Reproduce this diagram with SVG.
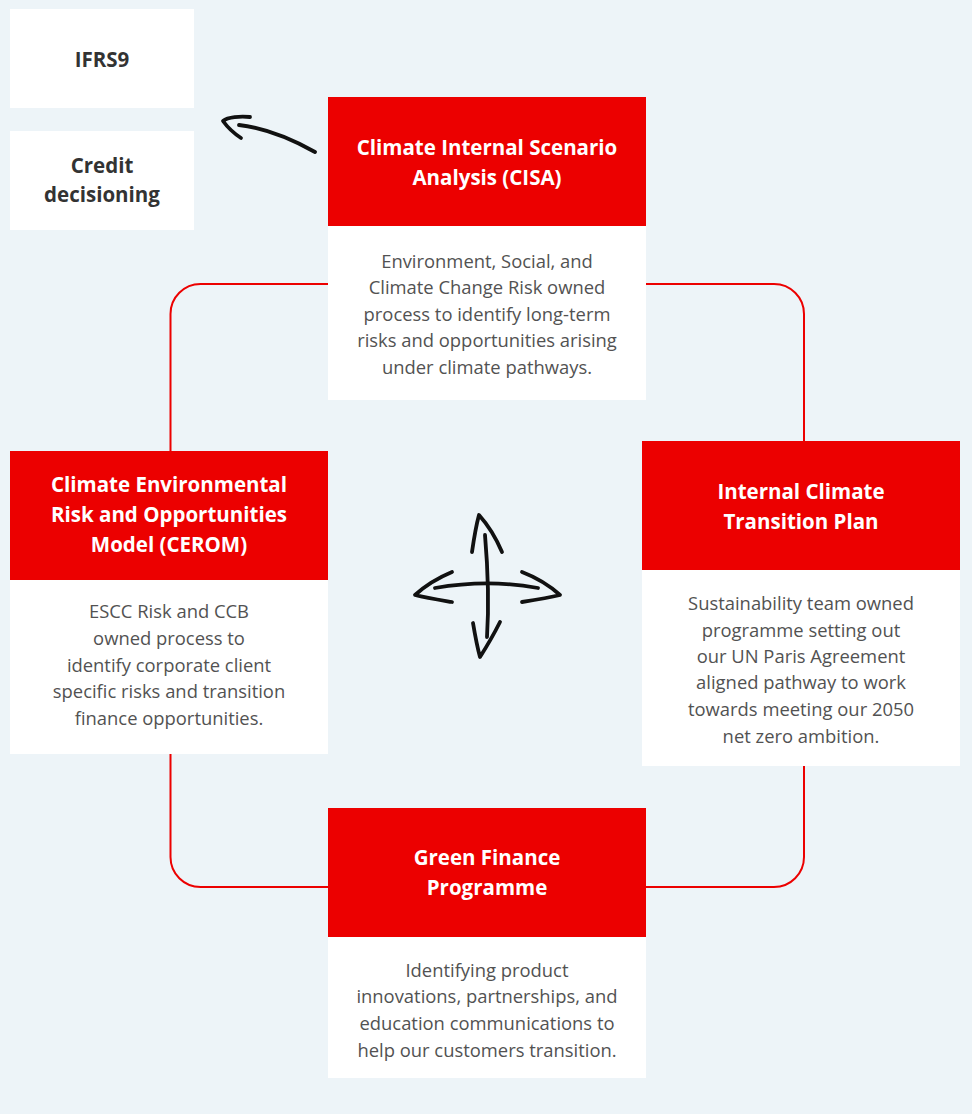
<svg xmlns="http://www.w3.org/2000/svg" width="972" height="1114" viewBox="0 0 972 1114">
<style>
.bg{fill:#EDF4F8}
.red{fill:#EC0000}
.wh{fill:#FFFFFF}
.h{font-family:"Open Sans","Liberation Sans",sans-serif;font-weight:700;font-size:20.5px;fill:#FFFFFF;text-anchor:middle}
.hd{font-family:"Open Sans","Liberation Sans",sans-serif;font-weight:700;font-size:20.5px;fill:#333333;text-anchor:middle}
.b{font-family:"Open Sans","Liberation Sans",sans-serif;font-weight:400;font-size:18.4px;fill:#525252;text-anchor:middle}
.loop{fill:none;stroke:#EC0000;stroke-width:2}
.ink{fill:none;stroke:#111111;stroke-width:3.8;stroke-linecap:round;stroke-linejoin:round}
</style>
<rect class="bg" x="0" y="0" width="972" height="1114"/>

<g id="connectors">
<rect class="loop" x="170.5" y="284" width="633.5" height="603" rx="30" ry="30"/>
<g id="arrow-cisa-to-ifrs">
<path class="ink" d="M315,152 C290,138 265,128 239,125" stroke-width="3.2"/>
<path class="ink" d="M250,117 C240,116 228,117 223,121 C228,128 235,134 241,138" stroke-width="3.2"/>
</g>
<g id="cross-arrows">
<path class="ink" d="M485,535 C488,570 489,605 487,637"/>
<path class="ink" d="M472,552 C474,538 476,526 479,515 C488,525 496,538 502,552"/>
<path class="ink" d="M473,623 C475,635 477,646 480,657 C487,646 494,634 500,622"/>
<path class="ink" d="M435,588 C470,582 505,582 538,588"/>
<path class="ink" d="M452,572 C440,577 426,585 415,595 C427,598 440,600 452,602"/>
<path class="ink" d="M522,572 C535,577 549,585 560,595 C548,598 535,600 522,602"/>
</g>
</g>

<g id="node-ifrs9">
<rect class="wh" x="10" y="9" width="184" height="99"/>
<text class="hd" x="102" y="67">IFRS9</text>
</g>

<g id="node-credit">
<rect class="wh" x="10" y="131" width="184" height="99"/>
<text class="hd" x="102" y="173">Credit</text>
<text class="hd" x="102" y="202">decisioning</text>
</g>

<g id="node-cisa">
<rect class="red" x="328" y="97" width="318" height="129"/>
<rect class="wh" x="328" y="226" width="318" height="174"/>
<text class="h" x="487" y="155">Climate Internal Scenario</text>
<text class="h" x="487" y="185">Analysis (CISA)</text>
<text class="b" x="487" y="268">Environment, Social, and</text>
<text class="b" x="487" y="294">Climate Change Risk owned</text>
<text class="b" x="487" y="321">process to identify long-term</text>
<text class="b" x="487" y="347">risks and opportunities arising</text>
<text class="b" x="487" y="374">under climate pathways.</text>
</g>

<g id="node-cerom">
<rect class="red" x="10" y="451" width="318" height="129"/>
<rect class="wh" x="10" y="580" width="318" height="174"/>
<text class="h" x="169" y="492">Climate Environmental</text>
<text class="h" x="169" y="522">Risk and Opportunities</text>
<text class="h" x="169" y="552">Model (CEROM)</text>
<text class="b" x="169" y="618">ESCC Risk and CCB</text>
<text class="b" x="169" y="645">owned process to</text>
<text class="b" x="169" y="672">identify corporate client</text>
<text class="b" x="169" y="698">specific risks and transition</text>
<text class="b" x="169" y="725">finance opportunities.</text>
</g>

<g id="node-transition">
<rect class="red" x="642" y="441" width="318" height="129"/>
<rect class="wh" x="642" y="570" width="318" height="196"/>
<text class="h" x="801" y="499">Internal Climate</text>
<text class="h" x="801" y="529">Transition Plan</text>
<text class="b" x="801" y="610">Sustainability team owned</text>
<text class="b" x="801" y="637">programme setting out</text>
<text class="b" x="801" y="663">our UN Paris Agreement</text>
<text class="b" x="801" y="689">aligned pathway to work</text>
<text class="b" x="801" y="716">towards meeting our 2050</text>
<text class="b" x="801" y="743">net zero ambition.</text>
</g>

<g id="node-green">
<rect class="red" x="328" y="808" width="318" height="129"/>
<rect class="wh" x="328" y="937" width="318" height="141"/>
<text class="h" x="487" y="865">Green Finance</text>
<text class="h" x="487" y="895">Programme</text>
<text class="b" x="487" y="977">Identifying product</text>
<text class="b" x="487" y="1003">innovations, partnerships, and</text>
<text class="b" x="487" y="1030">education communications to</text>
<text class="b" x="487" y="1057">help our customers transition.</text>
</g>
</svg>
